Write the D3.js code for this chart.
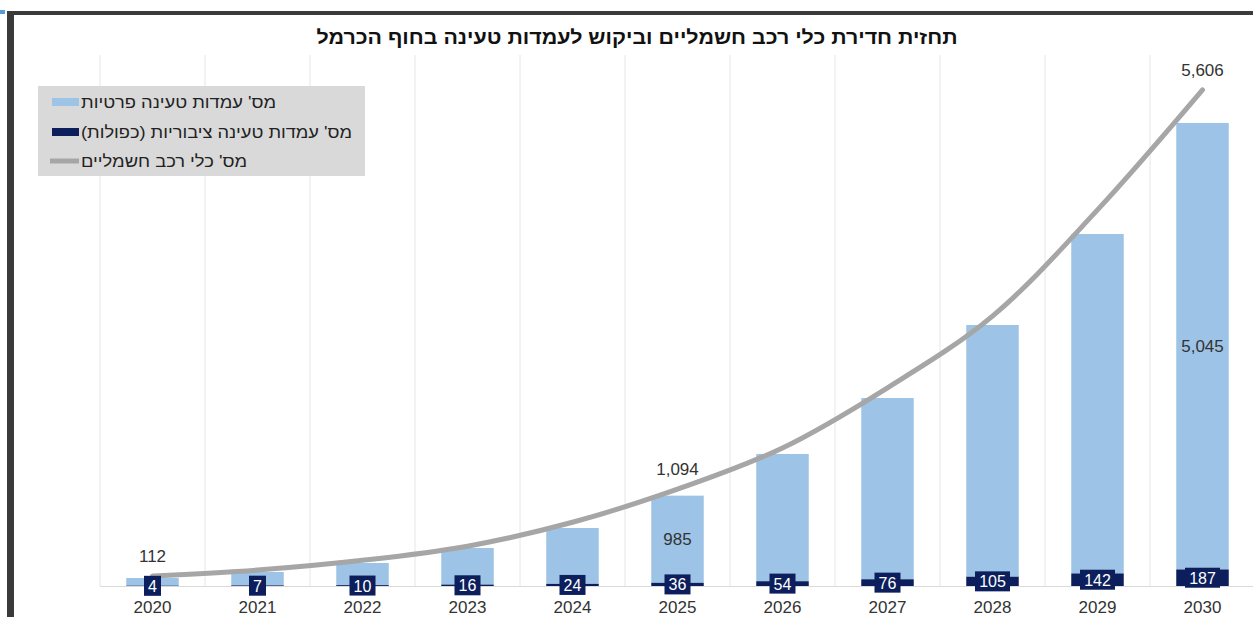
<!DOCTYPE html>
<html>
<head>
<meta charset="utf-8">
<script src="https://cdn.jsdelivr.net/npm/d3@7"></script>
<style>
  body { margin: 0; background: #fff; }
  svg { display: block; font-family: "Liberation Sans", Arial, sans-serif; }
</style>
</head>
<body>
<div id="canvas"></div>
<script>
const years = ["2020", "2021", "2022", "2023", "2024", "2025", "2026", "2027", "2028", "2029", "2030"];
const privateStations = [86, 151, 250, 413, 631, 985, 1438, 2048, 2844, 3835, 5045];
const publicStations = [4, 7, 10, 16, 24, 36, 54, 76, 105, 142, 187];
const evCount = [112, 180, 290, 450, 720, 1094, 1560, 2240, 3050, 4250, 5606];
const privateLabelYears = ["2025", "2030"];
const evLabelYears = ["2020", "2025", "2030"];
const seriesNames = ["מס' עמדות טעינה פרטיות", "מס' עמדות טעינה ציבוריות (כפולות)", "מס' כלי רכב חשמליים"];
const title = "תחזית חדירת כלי רכב חשמליים וביקוש לעמדות טעינה בחוף הכרמל";

const width = 1253;
const height = 617;
const margin = { top: 55, left: 100, bottom: 31, right: -2 };

const lightBlue = "#9dc3e6";
const navy = "#0c1f5c";
const lineGray = "#a6a6a6";

const svg = d3.select("#canvas").append("svg")
  .attr("width", width)
  .attr("height", height);

// frame
svg.append("rect").attr("x", 7).attr("y", 11).attr("width", width - 7).attr("height", 4).attr("fill", "#3a3a3a");
svg.append("rect").attr("x", 7).attr("y", 11).attr("width", 7).attr("height", height - 11).attr("fill", "#3a3a3a");
svg.append("rect").attr("x", 0).attr("y", 10).attr("width", 5).attr("height", 4).attr("fill", "#5b9bd5");

const x = d3.scaleBand()
  .domain(years)
  .range([margin.left, width - margin.right])
  .paddingInner(0.5)
  .paddingOuter(0.25);

const y = d3.scaleLinear()
  .domain([0, 6000])
  .range([height - margin.bottom, margin.top]);

const base = y(0);
const step = x.step();
const bw = x.bandwidth();
const cx = d => x(d) + bw / 2;

// vertical gridlines between categories
svg.append("g").selectAll("line")
  .data(years)
  .enter().append("line")
  .attr("x1", d => cx(d) - step / 2)
  .attr("x2", d => cx(d) - step / 2)
  .attr("y1", y(6000))
  .attr("y2", base)
  .attr("stroke", "#e6e6e6")
  .attr("stroke-width", 1);

svg.append("line")
  .attr("x1", margin.left).attr("x2", width)
  .attr("y1", base + 0.5).attr("y2", base + 0.5)
  .attr("stroke", "#d9d9d9");

// stacked bars: public at bottom, private on top
const rows = years.map((yr, i) => ({ year: yr, pub: publicStations[i], priv: privateStations[i], ev: evCount[i] }));

svg.append("g").selectAll("rect")
  .data(rows)
  .enter().append("rect")
  .attr("x", d => x(d.year))
  .attr("y", d => y(d.pub + d.priv))
  .attr("width", bw)
  .attr("height", d => y(d.pub) - y(d.pub + d.priv))
  .attr("fill", lightBlue);

svg.append("g").selectAll("rect")
  .data(rows)
  .enter().append("rect")
  .attr("x", d => x(d.year))
  .attr("y", d => y(d.pub))
  .attr("width", bw)
  .attr("height", d => base - y(d.pub))
  .attr("fill", navy);

// private labels
svg.append("g").selectAll("text")
  .data(rows.filter(d => privateLabelYears.includes(d.year)))
  .enter().append("text")
  .attr("x", d => cx(d.year))
  .attr("y", d => (y(d.pub) + y(d.pub + d.priv)) / 2 + 6)
  .attr("text-anchor", "middle")
  .attr("font-size", 17)
  .attr("fill", "#333")
  .text(d => d3.format(",")(d.priv));

// ev line
const line = d3.line()
  .x(d => cx(d.year))
  .y(d => y(d.ev))
  .curve(d3.curveCatmullRom.alpha(0.5));

svg.append("path")
  .datum(rows)
  .attr("d", line)
  .attr("fill", "none")
  .attr("stroke", lineGray)
  .attr("stroke-width", 5)
  .attr("stroke-linecap", "round");

svg.append("g").selectAll("text")
  .data(rows.filter(d => evLabelYears.includes(d.year)))
  .enter().append("text")
  .attr("x", d => cx(d.year))
  .attr("y", d => y(d.ev) - 14)
  .attr("text-anchor", "middle")
  .attr("font-size", 17)
  .attr("fill", "#333")
  .text(d => d3.format(",")(d.ev));

// public labels in navy boxes
const pubLabels = svg.append("g").selectAll("g")
  .data(rows)
  .enter().append("g")
  .attr("transform", d => `translate(${cx(d.year)},${(base + y(d.pub)) / 2})`);

pubLabels.append("rect")
  .attr("x", d => -(String(d.pub).length * 9 + 8) / 2)
  .attr("y", -10)
  .attr("width", d => String(d.pub).length * 9 + 8)
  .attr("height", 20)
  .attr("fill", navy);

pubLabels.append("text")
  .attr("y", 6)
  .attr("text-anchor", "middle")
  .attr("font-size", 16)
  .attr("fill", "#fff")
  .text(d => d.pub);

// category axis labels
svg.append("g").selectAll("text")
  .data(years)
  .enter().append("text")
  .attr("x", d => cx(d))
  .attr("y", 613)
  .attr("text-anchor", "middle")
  .attr("font-size", 17)
  .attr("fill", "#333")
  .text(d => d);

// title
svg.append("text")
  .attr("x", 637)
  .attr("y", 44)
  .attr("text-anchor", "middle")
  .attr("direction", "rtl")
  .attr("font-size", 19)
  .attr("font-weight", "bold")
  .attr("fill", "#111")
  .attr("textLength", 641)
  .attr("lengthAdjust", "spacingAndGlyphs")
  .text(title);

// legend
const legend = svg.append("g");
legend.append("rect")
  .attr("x", 38).attr("y", 86)
  .attr("width", 327).attr("height", 90)
  .attr("fill", "#d9d9d9");

const legendY = [102, 132, 161];
const legendLen = [195, 271, 166];
seriesNames.forEach((name, i) => {
  const ly = legendY[i];
  if (i < 2) {
    legend.append("rect")
      .attr("x", 52).attr("y", ly - 4)
      .attr("width", 27).attr("height", 8)
      .attr("fill", i === 0 ? lightBlue : navy);
  } else {
    legend.append("line")
      .attr("x1", 50).attr("x2", 79)
      .attr("y1", ly).attr("y2", ly)
      .attr("stroke", lineGray)
      .attr("stroke-width", 5);
  }
  legend.append("text")
    .attr("x", 81)
    .attr("y", ly + 6)
    .attr("direction", "rtl")
    .attr("text-anchor", "end")
    .attr("font-size", 16)
    .attr("fill", "#222")
    .attr("textLength", legendLen[i])
    .attr("lengthAdjust", "spacingAndGlyphs")
    .text(name);
});
</script>
</body>
</html>
